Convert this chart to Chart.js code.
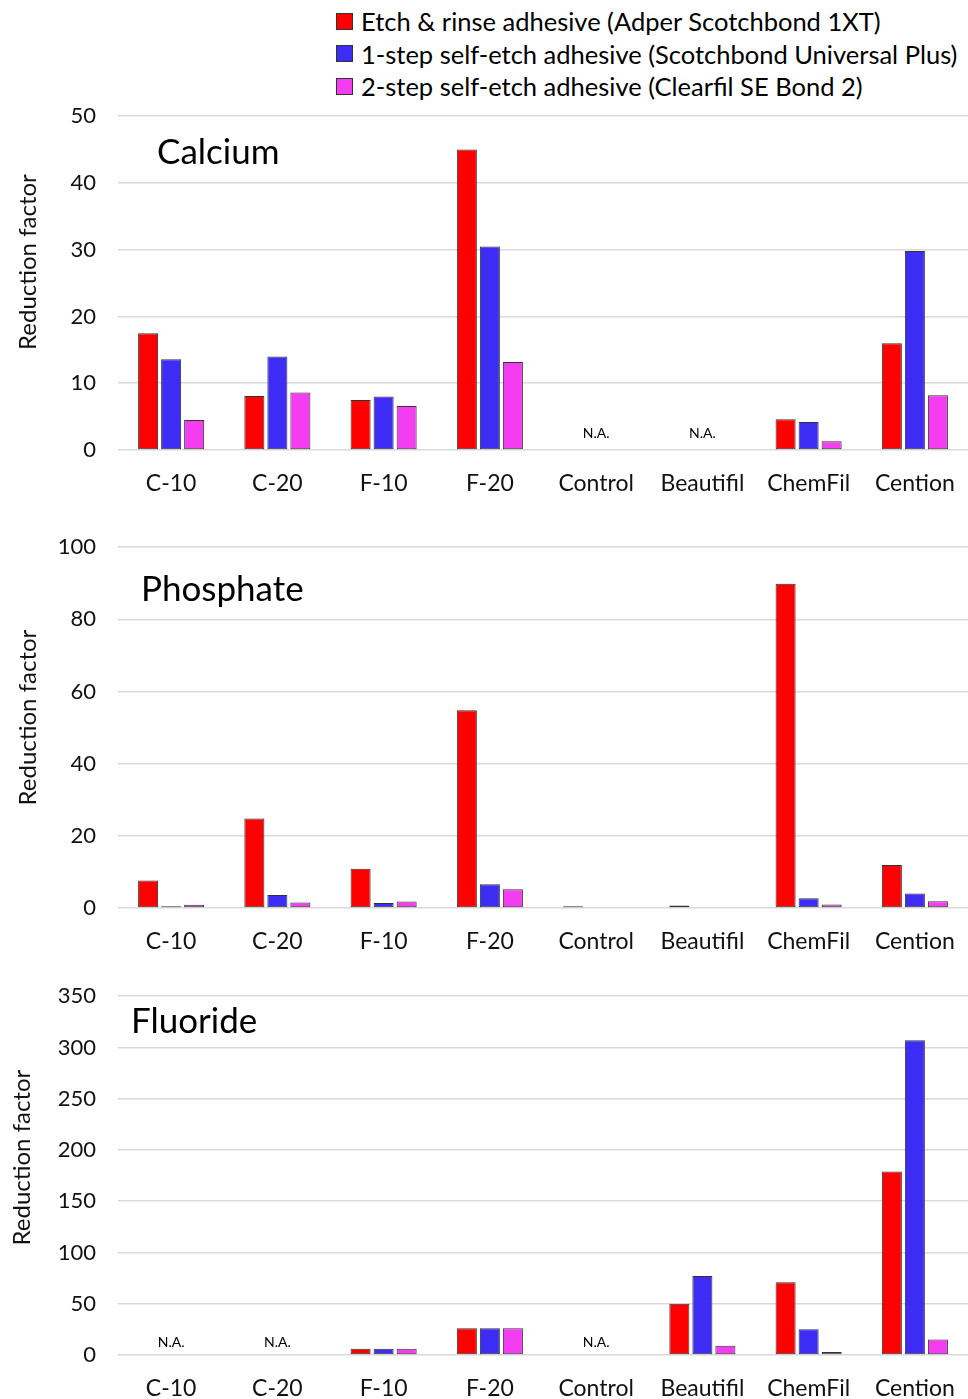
<!DOCTYPE html>
<html lang="en">
<head>
<meta charset="UTF-8">
<title>Reduction factor</title>
<script src="https://cdn.jsdelivr.net/npm/chart.js"></script>
<style>
  body { margin: 0; background: #fff; width: 968px; height: 1399px; overflow: hidden; position: relative; font-family: Lato, sans-serif; color: #000; }
  .legend { position: absolute; left: 336px; top: 5px; font-size: 25.5px; line-height: 32.5px; }
  .legend div { display: flex; align-items: center; white-space: nowrap; }
  .legend span.box { display: inline-block; width: 15px; height: 15px; border: 1px solid #333; margin-right: 8px; }
  canvas { position: absolute; left: 0; }
</style>
</head>
<body>
<div class="legend" id="legend"></div>
<canvas id="calcium" width="968" height="429" style="top:81px"></canvas>
<canvas id="phosphate" width="968" height="456" style="top:512px"></canvas>
<canvas id="fluoride" width="968" height="454" style="top:961px"></canvas>

<script>
const categories = ['C-10', 'C-20', 'F-10', 'F-20', 'Control', 'Beautifil', 'ChemFil', 'Cention'];
const seriesNames = [
  'Etch & rinse adhesive (Adper Scotchbond 1XT)',
  '1-step self-etch adhesive (Scotchbond Universal Plus)',
  '2-step self-etch adhesive (Clearfil SE Bond 2)'
];
const seriesColors = ['#ff0000', '#3c2cf4', '#f43cf0'];

const calciumEtch    = [17.5, 8.1, 7.5, 45.0, null, null, 4.6, 16.0];
const calciumOneStep = [13.6, 14.0, 8.0, 30.5, null, null, 4.2, 29.8];
const calciumTwoStep = [4.5, 8.6, 6.6, 13.2, null, null, 1.3, 8.2];
const calciumNA = ['Control', 'Beautifil'];

const phosphateEtch    = [7.6, 24.8, 10.9, 54.8, 0.5, 0.7, 89.9, 11.9];
const phosphateOneStep = [0.5, 3.6, 1.4, 6.6, 0, 0, 2.7, 4.0];
const phosphateTwoStep = [0.9, 1.5, 1.8, 5.2, 0, 0, 1.0, 1.9];
const phosphateNA = [];

const fluorideEtch    = [null, null, 6, 26, null, 50, 71, 179];
const fluorideOneStep = [null, null, 6, 26, null, 77, 25, 307];
const fluorideTwoStep = [null, null, 6, 26, null, 9, 3, 15];
const fluorideNA = ['C-10', 'C-20', 'Control'];

const calciumTicks = { max: 50, step: 10 };
const phosphateTicks = { max: 100, step: 20 };
const fluorideTicks = { max: 350, step: 50 };

// legend as html
document.getElementById('legend').innerHTML = seriesNames.map((n, i) =>
  '<div><span class="box" style="background:' + seriesColors[i] + '"></span>' +
  n.replace('&', '&amp;') + '</div>').join('');

// panel title, axis title, N.A. markers
const panelText = {
  id: 'panelText',
  afterDatasetsDraw(chart, args, opts) {
    const { ctx, chartArea, scales } = chart;
    ctx.save();
    ctx.fillStyle = '#000';
    ctx.textBaseline = 'middle';
    ctx.font = '35px Lato';
    ctx.fillText(opts.title, chartArea.left + opts.tx, chartArea.top + opts.ty);

    // y axis title
    ctx.save();
    ctx.translate(opts.ax, (chartArea.top + chartArea.bottom) / 2 + opts.ay);
    ctx.rotate(-Math.PI / 2);
    ctx.textAlign = 'center';
    ctx.fillStyle = '#111';
    ctx.font = '24px Lato';
    ctx.fillText('Reduction factor', 0, 0);
    ctx.restore();

    ctx.font = '14px Lato';
    ctx.textAlign = 'center';
    opts.na.forEach(c => {
      const x = scales.x.getPixelForValue(categories.indexOf(c));
      ctx.fillText('N.A.', x, scales.y.getPixelForValue(0) - opts.naY);
    });
    ctx.restore();
  }
};

function makeChart(id, values, ticks, text) {
  return new Chart(document.getElementById(id), {
    type: 'bar',
    data: {
      labels: categories,
      datasets: values.map((v, i) => ({
        label: seriesNames[i],
        data: v,
        backgroundColor: seriesColors[i],
        borderColor: '#333',
        borderWidth: 1,
        borderSkipped: false,
        categoryPercentage: 0.65,
        barPercentage: 0.87
      }))
    },
    options: {
      responsive: false,
      animation: false,
      layout: { padding: 0 },
      plugins: {
        legend: { display: false },
        tooltip: { enabled: false },
        panelText: text
      },
      scales: {
        x: {
          grid: { display: false },
          border: { display: false },
          ticks: { color: '#111', font: { family: 'Lato', size: 23 }, padding: 12, maxRotation: 0, autoSkip: false },
          afterFit(s) { s.height = 60; }
        },
        y: {
          min: 0,
          max: ticks.max,
          grid: { color: '#d9d9d9', lineWidth: 1.5, drawTicks: false },
          border: { display: false },
          ticks: { stepSize: ticks.step, color: '#111', font: { family: 'Lato', size: 22 }, padding: 22 },
          afterFit(s) { s.width = 118; }
        }
      }
    },
    plugins: [panelText]
  });
}

makeChart('calcium', [calciumEtch, calciumOneStep, calciumTwoStep], calciumTicks,
  { title: 'Calcium', tx: 39, ty: 37, na: calciumNA, naY: 17, ax: 28, ay: -21 });
makeChart('phosphate', [phosphateEtch, phosphateOneStep, phosphateTwoStep], phosphateTicks,
  { title: 'Phosphate', tx: 23, ty: 43, na: phosphateNA, naY: 17, ax: 28, ay: -10 });
makeChart('fluoride', [fluorideEtch, fluorideOneStep, fluorideTwoStep], fluorideTicks,
  { title: 'Fluoride', tx: 13, ty: 26, na: fluorideNA, naY: 13, ax: 22, ay: -18 });
</script>
</body>
</html>
